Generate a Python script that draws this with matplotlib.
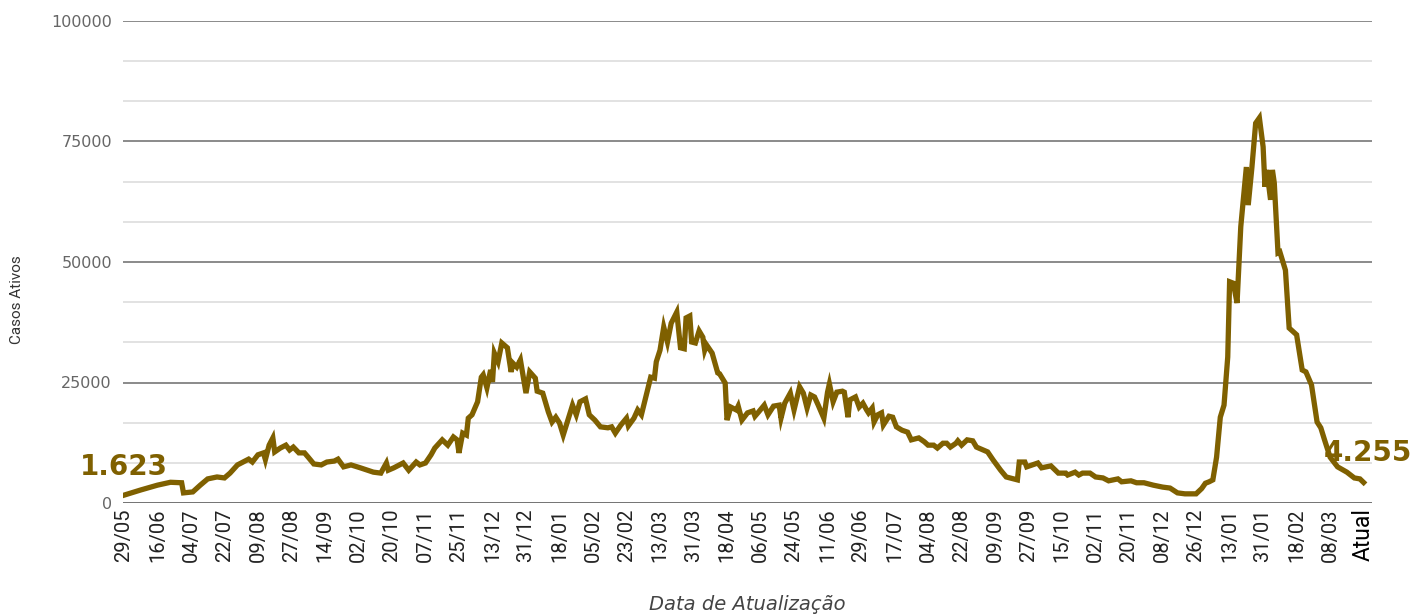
import matplotlib
matplotlib.use("Agg")
import matplotlib.pyplot as plt

# dias contados a partir de 29/05/2020 e casos ativos (em milhares)
dias = [
    0, 9, 18, 25, 31, 32, 37, 41, 45, 50, 54, 57, 61, 67, 69, 72, 75, 76, 78, 80,
    81, 84, 87, 89, 91, 94, 97, 99, 102, 106, 109, 113, 115, 118, 122, 127, 134, 138, 141, 142,
    145, 150, 153, 157, 159, 162, 165, 167, 171, 174, 177, 179, 180, 182, 184, 185, 187, 190, 192, 193,
    195, 197, 198, 199, 201, 203, 206, 208, 209, 211, 213, 216, 218, 221, 222, 225, 228, 230, 232, 234,
    236, 238, 241, 243, 245, 248, 250, 253, 256, 260, 262, 264, 267, 270, 271, 274, 276, 278, 280, 283,
    285, 286, 288, 290, 292, 294, 297, 299, 301, 302, 304, 305, 307, 309, 311, 312, 313, 316, 319, 320,
    323, 324, 326, 329, 330, 332, 335, 338, 339, 341, 344, 346, 349, 352, 353, 355, 358, 360, 363, 365,
    367, 369, 371, 373, 376, 378, 379, 381, 383, 386, 387, 389, 390, 393, 395, 397, 399, 400, 402, 403,
    405, 407, 408, 411, 413, 415, 418, 421, 423, 427, 430, 432, 435, 437, 440, 442, 444, 447, 448, 450,
    453, 456, 458, 464, 467, 471, 474, 480, 481, 484, 485, 491, 493, 498, 502, 506, 507, 511, 513, 515,
    519, 522, 526, 529, 534, 536, 541, 544, 548, 553, 558, 562, 566, 570, 576, 579, 581, 583, 585, 587,
    589, 591, 593, 594, 596, 598, 600, 603, 604, 606, 608, 610, 612, 613, 614, 616, 617, 618, 620, 621,
    624, 626, 630, 633, 635, 638, 641, 643, 645, 648, 652, 657, 661, 664, 666,
]
casos_mil = [
    1.623, 2.7, 3.7, 4.3, 4.2, 2.1, 2.3, 3.7, 5.0, 5.4, 5.2, 6.2, 7.9, 9.1, 8.5, 10.0, 10.4, 9.0, 12.0, 13.5,
    10.6, 11.4, 12.0, 11.0, 11.6, 10.4, 10.4, 9.5, 8.1, 7.9, 8.5, 8.7, 9.1, 7.5, 7.9, 7.3, 6.4, 6.2, 8.3, 6.8,
    7.3, 8.3, 6.8, 8.5, 7.9, 8.3, 10.0, 11.4, 13.1, 12.0, 13.7, 13.1, 10.4, 14.5, 14.1, 17.6, 18.3, 21.0, 26.1, 26.6,
    23.9, 27.6, 25.1, 31.1, 29.3, 33.2, 32.2, 27.2, 29.0, 28.2, 29.7, 22.8, 27.2, 25.9, 23.2, 22.8, 18.9, 16.8, 17.8, 16.6,
    14.1, 16.6, 20.3, 18.3, 21.0, 21.6, 18.3, 17.2, 15.8, 15.6, 15.8, 14.5, 16.2, 17.6, 16.0, 17.6, 19.3, 18.3, 21.4, 26.1,
    25.9, 29.3, 31.7, 36.5, 33.4, 37.3, 39.6, 32.2, 32.0, 38.4, 38.8, 33.4, 33.2, 35.7, 34.4, 31.7, 32.8, 31.1, 27.0, 26.8,
    24.9, 17.2, 19.9, 19.3, 20.1, 17.2, 18.7, 19.1, 18.0, 18.9, 20.3, 18.3, 20.1, 20.3, 17.6, 20.7, 22.8, 19.3, 24.1, 22.8,
    19.7, 22.4, 22.0, 20.3, 17.6, 23.0, 24.7, 21.0, 23.0, 23.2, 23.0, 17.8, 21.4, 22.0, 19.9, 20.7, 19.3, 18.7, 19.7, 16.8,
    18.3, 18.7, 16.2, 18.0, 17.8, 15.8, 15.1, 14.7, 13.1, 13.5, 12.7, 12.0, 12.0, 11.4, 12.4, 12.4, 11.6, 12.4, 12.9, 12.0,
    13.1, 12.9, 11.6, 10.6, 8.9, 6.8, 5.4, 4.8, 8.5, 8.5, 7.5, 8.3, 7.3, 7.7, 6.2, 6.2, 5.8, 6.4, 5.8, 6.2,
    6.2, 5.4, 5.2, 4.6, 5.0, 4.4, 4.6, 4.2, 4.2, 3.7, 3.3, 3.1, 2.1, 1.9, 1.9, 3.0, 4.1, 4.4, 4.8, 9.5,
    17.8, 20.3, 30.3, 45.9, 45.6, 41.5, 57.3, 69.7, 61.8, 69.7, 78.8, 79.9, 73.9, 65.6, 69.1, 62.9, 69.1, 66.4, 51.9, 52.1,
    48.3, 36.3, 34.9, 27.6, 27.2, 24.5, 16.8, 15.6, 13.1, 9.5, 7.5, 6.4, 5.2, 5.0, 4.255,
]
casos = [v * 1000 for v in casos_mil]

rotulos_x = [
    "29/05", "16/06", "04/07", "22/07", "09/08", "27/08", "14/09", "02/10", "20/10", "07/11",
    "25/11", "13/12", "31/12", "18/01", "05/02", "23/02", "13/03", "31/03", "18/04", "06/05",
    "24/05", "11/06", "29/06", "17/07", "04/08", "22/08", "09/09", "27/09", "15/10", "02/11",
    "20/11", "08/12", "26/12", "13/01", "31/01", "18/02", "08/03", "Atual",
]
ticks_y = [0, 25000, 50000, 75000, 100000]

cor = "#7f6000"

fig = plt.figure(figsize=(14.15, 6.14), dpi=100)
ax = fig.add_axes([123 / 1415, 1 - 503 / 614, 1249 / 1415, 482 / 614])

# grade: linhas fortes a cada 25000, claras nos tercos
for k in range(13):
    y = k * 25000 / 3
    if k % 3 == 0:
        ax.axhline(y, color="#777777" if k else "#666666", lw=1.2 if k else 2.0, zorder=1)
    else:
        ax.axhline(y, color="#dddddd", lw=1.2, zorder=1)

ax.plot(dias, casos, color=cor, lw=3.8, solid_joinstyle="miter", zorder=3)

ax.annotate("1.623", (dias[0], casos[0]), xytext=(0, 20), textcoords="offset points",
            ha="center", va="center", fontsize=20, fontweight="bold", color=cor, zorder=4)
ax.annotate("4.255", (dias[-1], casos[-1]), xytext=(3, 21), textcoords="offset points",
            ha="center", va="center", fontsize=20, fontweight="bold", color=cor, zorder=4)

ax.set_xlim(-0.5, 670.5)
ax.set_ylim(0, 100000)

pos_x = [18 * i for i in range(len(rotulos_x) - 1)] + [dias[-1]]
ax.set_xticks(pos_x)
ax.set_xticklabels(rotulos_x, rotation=90, fontsize=14.5, color="#222222",
                   family=["Liberation Sans Narrow", "Roboto"])
ultimo = ax.get_xticklabels()[-1]
ultimo.set_family(["Roboto", "DejaVu Sans"])
ultimo.set_color("black")
ultimo.set_fontsize(16.5)

ax.set_yticks(ticks_y)
ax.set_yticklabels([str(t) for t in ticks_y], fontsize=11.5, color="#666666")
ax.tick_params(axis="both", length=0)
ax.tick_params(axis="x", pad=4)
ax.tick_params(axis="y", pad=8)

for s in ax.spines.values():
    s.set_visible(False)

fig.text(17 / 1415, 1 - 300 / 614, "Casos Ativos", rotation=90, ha="center", va="center",
         fontsize=11, color="#333333", family=["Liberation Sans Narrow", "Roboto"])
fig.text(747 / 1415, 1 - 604 / 614, "Data de Atualização", ha="center", va="center",
         fontsize=14, style="italic", color="#444444")

fig.savefig("out.png", dpi=100)
